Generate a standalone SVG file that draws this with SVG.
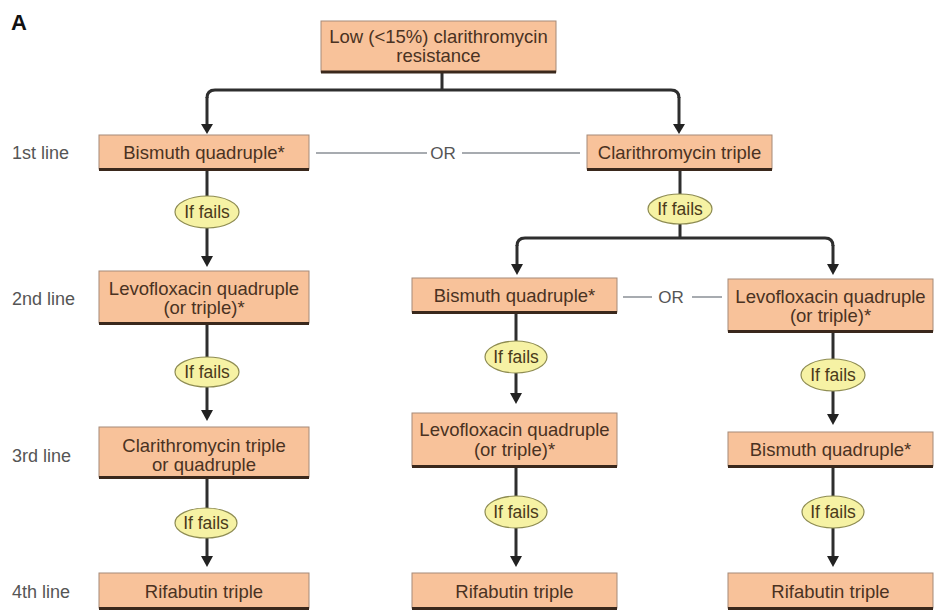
<svg xmlns="http://www.w3.org/2000/svg" width="939" height="612" viewBox="0 0 939 612">
<defs>
<style>
.box{fill:#f8c29a;stroke:#a58a78;stroke-width:1}
.bb{stroke:#3a281c;stroke-width:3}
.t{font-family:"Liberation Sans",Arial,sans-serif;font-size:18.5px;fill:#4a3222;text-anchor:middle}
.lab{font-family:"Liberation Sans",Arial,sans-serif;font-size:18px;fill:#555}
.el{fill:#f6f2a4;stroke:#8e8c52;stroke-width:1.2}
.et{font-family:"Liberation Sans",Arial,sans-serif;font-size:17.5px;fill:#4a3a1a;text-anchor:middle}
.c{fill:none;stroke:#2e2e2e;stroke-width:3}
.ah{fill:#222}
.or{stroke:#8a8f96;stroke-width:1.5}
.ort{font-family:"Liberation Sans",Arial,sans-serif;font-size:17px;fill:#555;text-anchor:middle}
</style>
</defs>
<rect width="939" height="612" fill="#fff"/>
<text x="11" y="30" font-family="Liberation Sans,Arial,sans-serif" font-size="22" font-weight="bold" fill="#111">A</text>
<g id="labels">
<text class="lab" x="12" y="159">1st line</text>
<text class="lab" x="12" y="305">2nd line</text>
<text class="lab" x="12" y="462">3rd line</text>
<text class="lab" x="12" y="598">4th line</text>
</g>
<g id="connectors">
<path class="c" d="M442,73 V90 M215,90 H671 M207,98 Q207,90 215,90 M671,90 Q679,90 679,98"/>
<line class="c" x1="207" y1="97" x2="207" y2="128"/>
<line class="c" x1="679" y1="97" x2="679" y2="128"/>
<path class="ah" d="M201,124 L213,124 L207,134 Z"/>
<path class="ah" d="M673,124 L685,124 L679,134 Z"/>
<line class="or" x1="316" y1="153" x2="427" y2="153"/>
<text class="ort" x="443" y="159">OR</text>
<line class="or" x1="462" y1="153" x2="580" y2="153"/>
<line class="c" x1="207" y1="171" x2="207" y2="196"/>
<line class="c" x1="207" y1="228" x2="207" y2="260"/>
<path class="ah" d="M201,256 L213,256 L207,267 Z"/>
<line class="c" x1="207" y1="325" x2="207" y2="357"/>
<line class="c" x1="207" y1="387" x2="207" y2="414"/>
<path class="ah" d="M201,410 L213,410 L207,421 Z"/>
<line class="c" x1="207" y1="479" x2="207" y2="508"/>
<line class="c" x1="207" y1="538" x2="207" y2="560"/>
<path class="ah" d="M201,556 L213,556 L207,567 Z"/>
<line class="c" x1="680" y1="171" x2="680" y2="194"/>
<path class="c" d="M680,224 V238 M525,238 H825 M517,246 Q517,238 525,238 M825,238 Q833,238 833,246"/>
<line class="c" x1="517" y1="245" x2="517" y2="268"/>
<line class="c" x1="833" y1="245" x2="833" y2="268"/>
<path class="ah" d="M511,264 L523,264 L517,275 Z"/>
<path class="ah" d="M827,264 L839,264 L833,275 Z"/>
<line class="or" x1="623" y1="297" x2="652" y2="297"/>
<text class="ort" x="671" y="303">OR</text>
<line class="or" x1="692" y1="297" x2="722" y2="297"/>
<line class="c" x1="516" y1="314" x2="516" y2="341"/>
<line class="c" x1="516" y1="373" x2="516" y2="397"/>
<path class="ah" d="M510,393 L522,393 L516,404 Z"/>
<line class="c" x1="516" y1="468" x2="516" y2="496"/>
<line class="c" x1="516" y1="528" x2="516" y2="560"/>
<path class="ah" d="M510,556 L522,556 L516,567 Z"/>
<line class="c" x1="833" y1="333" x2="833" y2="359"/>
<line class="c" x1="833" y1="391" x2="833" y2="418"/>
<path class="ah" d="M827,414 L839,414 L833,425 Z"/>
<line class="c" x1="833" y1="468" x2="833" y2="496"/>
<line class="c" x1="833" y1="528" x2="833" y2="560"/>
<path class="ah" d="M827,556 L839,556 L833,567 Z"/>
</g>
<g id="n-top">
<rect class="box" x="321" y="21" width="235" height="51"/>
<line class="bb" x1="321" y1="72" x2="556" y2="72"/>
<text class="t" x="438.5" y="43">Low (&lt;15%) clarithromycin</text>
<text class="t" x="438.5" y="62">resistance</text>
</g>
<g id="n-l1">
<rect class="box" x="99" y="135" width="210" height="34"/>
<line class="bb" x1="99" y1="169.5" x2="309" y2="169.5"/>
<text class="t" x="204" y="159">Bismuth quadruple*</text>
</g>
<g id="n-r1">
<rect class="box" x="587" y="135" width="185" height="34"/>
<line class="bb" x1="587" y1="169.5" x2="772" y2="169.5"/>
<text class="t" x="679.5" y="159">Clarithromycin triple</text>
</g>
<g id="f-l1"><ellipse class="el" cx="207" cy="212" rx="32" ry="16"/><text class="et" x="207" y="218">If fails</text></g>
<g id="n-l2">
<rect class="box" x="99" y="271" width="210" height="52"/>
<line class="bb" x1="99" y1="323.5" x2="309" y2="323.5"/>
<text class="t" x="204" y="295">Levofloxacin quadruple</text>
<text class="t" x="204" y="314">(or triple)*</text>
</g>
<g id="f-l2"><ellipse class="el" cx="207" cy="372" rx="32" ry="15"/><text class="et" x="207" y="378">If fails</text></g>
<g id="n-l3">
<rect class="box" x="99" y="427" width="210" height="50"/>
<line class="bb" x1="99" y1="477.5" x2="309" y2="477.5"/>
<text class="t" x="204" y="452">Clarithromycin triple</text>
<text class="t" x="204" y="471">or quadruple</text>
</g>
<g id="f-l3"><ellipse class="el" cx="206" cy="523" rx="31" ry="15"/><text class="et" x="206" y="529">If fails</text></g>
<g id="n-l4">
<rect class="box" x="99" y="573" width="210" height="35"/>
<line class="bb" x1="99" y1="608.5" x2="309" y2="608.5"/>
<text class="t" x="204" y="598">Rifabutin triple</text>
</g>
<g id="f-r1"><ellipse class="el" cx="680" cy="209" rx="32" ry="15"/><text class="et" x="680" y="215">If fails</text></g>
<g id="n-m1">
<rect class="box" x="412" y="278" width="205" height="34"/>
<line class="bb" x1="412" y1="312.5" x2="617" y2="312.5"/>
<text class="t" x="514.5" y="302">Bismuth quadruple*</text>
</g>
<g id="n-r2">
<rect class="box" x="728" y="279" width="205" height="52"/>
<line class="bb" x1="728" y1="331.5" x2="933" y2="331.5"/>
<text class="t" x="830.5" y="303">Levofloxacin quadruple</text>
<text class="t" x="830.5" y="322">(or triple)*</text>
</g>
<g id="f-m1"><ellipse class="el" cx="516" cy="357" rx="31" ry="16"/><text class="et" x="516" y="363">If fails</text></g>
<g id="f-r2"><ellipse class="el" cx="833" cy="375" rx="32" ry="16"/><text class="et" x="833" y="381">If fails</text></g>
<g id="n-m2">
<rect class="box" x="412" y="413" width="205" height="53"/>
<line class="bb" x1="412" y1="466.5" x2="617" y2="466.5"/>
<text class="t" x="514.5" y="436">Levofloxacin quadruple</text>
<text class="t" x="514.5" y="456">(or  triple)*</text>
</g>
<g id="n-r3">
<rect class="box" x="728" y="432" width="205" height="34"/>
<line class="bb" x1="728" y1="466.5" x2="933" y2="466.5"/>
<text class="t" x="830.5" y="456">Bismuth quadruple*</text>
</g>
<g id="f-m2"><ellipse class="el" cx="516" cy="512" rx="31" ry="16"/><text class="et" x="516" y="518">If fails</text></g>
<g id="f-r3"><ellipse class="el" cx="833" cy="512" rx="31" ry="16"/><text class="et" x="833" y="518">If fails</text></g>
<g id="n-m3">
<rect class="box" x="412" y="573" width="205" height="35"/>
<line class="bb" x1="412" y1="608.5" x2="617" y2="608.5"/>
<text class="t" x="514.5" y="598">Rifabutin triple</text>
</g>
<g id="n-r4">
<rect class="box" x="728" y="573" width="205" height="35"/>
<line class="bb" x1="728" y1="608.5" x2="933" y2="608.5"/>
<text class="t" x="830.5" y="598">Rifabutin triple</text>
</g>
</svg>
